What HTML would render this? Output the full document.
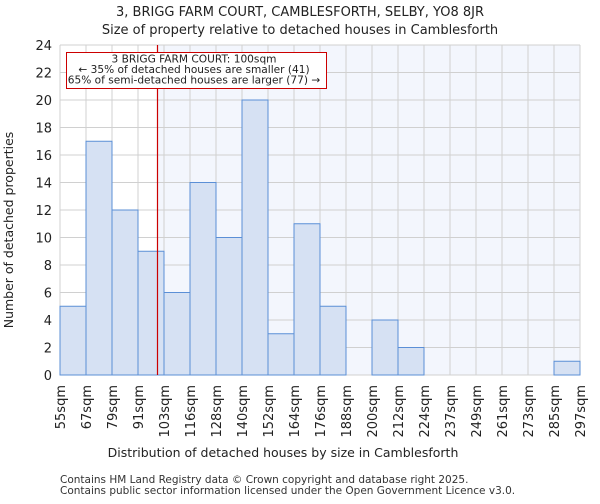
<!DOCTYPE html>
<html><head><meta charset="utf-8"><style>
body{margin:0;background:#fff;font-family:"DejaVu Sans","Liberation Sans",sans-serif;}
</style></head><body>
<svg id="c" width="600" height="500" xmlns="http://www.w3.org/2000/svg" font-family="DejaVu Sans, Liberation Sans, sans-serif">
<text x="300" y="16" text-anchor="middle" font-size="13" fill="#222">3, BRIGG FARM COURT, CAMBLESFORTH, SELBY, YO8 8JR</text>
<text x="300" y="34" text-anchor="middle" font-size="13" fill="#222">Size of property relative to detached houses in Camblesforth</text>
<g id="plot"></g>
<text x="283" y="457" text-anchor="middle" font-size="12.5" fill="#222">Distribution of detached houses by size in Camblesforth</text>
<text transform="translate(13,230) rotate(-90)" text-anchor="middle" font-size="12.5" fill="#222">Number of detached properties</text>
<text x="60" y="483" font-size="10.5" fill="#333">Contains HM Land Registry data © Crown copyright and database right 2025.</text>
<text x="60" y="494" font-size="10.5" fill="#333">Contains public sector information licensed under the Open Government Licence v3.0.</text>
</svg>
<script>
const categories=["55sqm","67sqm","79sqm","91sqm","103sqm","116sqm","128sqm","140sqm","152sqm","164sqm","176sqm","188sqm","200sqm","212sqm","224sqm","237sqm","249sqm","261sqm","273sqm","285sqm","297sqm"];
const counts=[5,17,12,9,6,14,10,20,3,11,5,0,4,2,0,0,0,0,0,1];
const yTicks=[0,2,4,6,8,10,12,14,16,18,20,22,24];
const binEdges=[55,67,79,91,103,116,128,140,152,164,176,188,200,212,224,237,249,261,273,285,297];
const markerValue=100;
const X0=60,X1=580,Y0=375,Y1=45,YMAX=24;
const bw=(X1-X0)/counts.length;
const xs=i=>X0+i*bw;
const ys=v=>Y0-(v/YMAX)*(Y0-Y1);
function xv(v){for(let i=0;i<binEdges.length-1;i++){if(v>=binEdges[i]&&v<=binEdges[i+1])return xs(i)+(v-binEdges[i])/(binEdges[i+1]-binEdges[i])*bw;}return X0;}
const NS="http://www.w3.org/2000/svg";
const g=document.getElementById('plot');
function mk(t,a){const e=document.createElementNS(NS,t);for(const k in a)e.setAttribute(k,a[k]);g.appendChild(e);return e;}
const mx=xv(markerValue);
let e=mk('rect',{x:mx,y:Y1,width:X1-mx,height:Y0-Y1,fill:'#f3f6fd'});


yTicks.forEach(t=>{let l=mk('line',{x1:X0,x2:X1,y1:ys(t),y2:ys(t),stroke:'#d0d0d0','stroke-width':1});


let tx=mk('text',{x:X0-8,y:ys(t)+5,'text-anchor':'end','font-size':'13',fill:'#222'});tx.textContent=t;

});
categories.forEach((c,i)=>{let l=mk('line',{x1:xs(i),x2:xs(i),y1:Y1,y2:Y0,stroke:'#d0d0d0','stroke-width':1});


let tx=mk('text',{transform:`translate(${xs(i)+5},385) rotate(-90)`,'text-anchor':'end','font-size':'13',fill:'#222'});tx.textContent=c;

});
counts.forEach((v,i)=>{if(v<=0)return;let r=mk('rect',{x:xs(i),y:ys(v),width:bw,height:Y0-ys(v),fill:'#d6e1f3',stroke:'#5b8fd6','stroke-width':1});

});
e=mk('line',{x1:mx,x2:mx,y1:Y1,y2:Y0,stroke:'#cc0000','stroke-width':1.2});


e=mk('rect',{x:66.5,y:52.5,width:260,height:36,fill:'#fff',stroke:'#cc0000','stroke-width':1});


["3 BRIGG FARM COURT: 100sqm","← 35% of detached houses are smaller (41)","65% of semi-detached houses are larger (77) →"].forEach((s,i)=>{let t=mk('text',{x:194,y:62.5+i*10.5,'text-anchor':'middle','font-size':'10.6',fill:'#222'});t.textContent=s;

});
</script>
</body></html>
